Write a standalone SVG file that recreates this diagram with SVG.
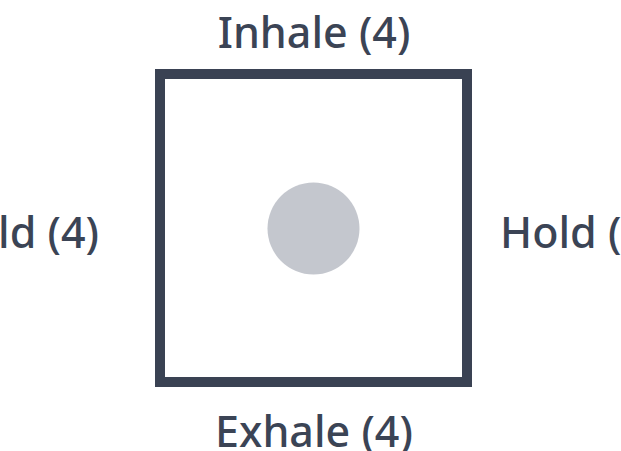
<svg xmlns="http://www.w3.org/2000/svg" width="621" height="451" viewBox="0 0 621 451">
<style>
.lbl{font-family:"Noto Sans","Open Sans","Liberation Sans",sans-serif;font-size:43px;font-weight:500;fill:#3b4455;}
</style>
<rect width="621" height="451" fill="#ffffff"/>
<g id="box">
<rect x="160" y="74" width="307" height="308" fill="#ffffff" stroke="#3a4253" stroke-width="10"/>
</g>
<g id="dot">
<circle cx="313.5" cy="228.5" r="46" fill="#c4c7ce"/>
</g>
<g id="connectors"></g>
<g id="label-top"><text class="lbl" x="314" y="48" text-anchor="middle">Inhale (4)</text></g>
<g id="label-right"><text class="lbl" x="500" y="248" text-anchor="start">Hold (4)</text></g>
<g id="label-bottom"><text class="lbl" x="314" y="447" text-anchor="middle">Exhale (4)</text></g>
<g id="label-left"><text class="lbl" x="99" y="248" text-anchor="end">Hold (4)</text></g>
</svg>
